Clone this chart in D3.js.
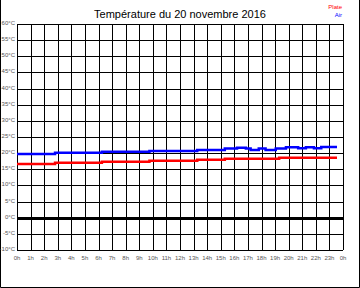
<!DOCTYPE html>
<html>
<head>
<meta charset="utf-8">
<script src="https://cdn.jsdelivr.net/npm/d3@7"></script>
<style>
  body { margin: 0; background: #fff; }
  svg { display: block; font-family: "Liberation Sans", Arial, sans-serif; }
  .tick-label { font-size: 6px; fill: #555; }
</style>
</head>
<body>
<svg width="360" height="288"></svg>
<script>
// hours where reading changes, and the value held from there (step chart)
var airHours  = [0, 2.8, 6.25, 9.75, 13.27, 15.3, 16.2, 16.85, 17.2, 17.8, 18.3, 19.05, 19.8, 20.7, 21.27, 21.86, 22.4, 23.56];
var airTemps  = [19.7, 20.1, 20.4, 20.7, 21.0, 21.4, 21.7, 21.4, 21.0, 21.4, 21.0, 21.4, 21.8, 21.5, 21.8, 21.5, 21.9, 21.9];
var plateHours = [0, 2.8, 6.25, 9.75, 13.27, 15.3, 19.3, 23.56];
var plateTemps = [16.6, 17.0, 17.3, 17.65, 17.96, 18.3, 18.6, 18.6];

var yTicks = d3.range(-10, 61, 5);
var xTicks = d3.range(0, 25);
var xTickLabels = xTicks.map(h => (h % 24) + 'h');

var title = 'Température du 20 novembre 2016';

var svg = d3.select('svg');
var W = +svg.attr('width'), H = +svg.attr('height');
var plot = { l: 17, r: 343, t: 24, b: 250 };

var x = d3.scaleLinear().domain([0, 24]).range([plot.l, plot.r]);
var y = d3.scaleLinear().domain([-10, 60]).range([plot.b, plot.t]);

// outer frame (left, right, bottom)
svg.append('path')
    .attr('d', `M0.5,0 V${H - 0.5} H${W - 0.5} V0`)
    .attr('fill', 'none').attr('stroke', '#000');

// grid
svg.append('g').selectAll('line').data(yTicks).enter().append('line')
    .attr('x1', plot.l).attr('x2', plot.r)
    .attr('y1', d => Math.round(y(d)) + 0.5).attr('y2', d => Math.round(y(d)) + 0.5)
    .attr('stroke', '#000').attr('stroke-width', 1);

svg.append('g').selectAll('line').data(xTicks).enter().append('line')
    .attr('x1', d => Math.round(x(d)) + 0.5).attr('x2', d => Math.round(x(d)) + 0.5)
    .attr('y1', plot.t).attr('y2', plot.b)
    .attr('stroke', '#000').attr('stroke-width', 1);

// zero line
svg.append('line')
    .attr('x1', plot.l).attr('x2', plot.r)
    .attr('y1', Math.round(y(0)) + 0.5).attr('y2', Math.round(y(0)) + 0.5)
    .attr('stroke', '#000').attr('stroke-width', 3);

// tick labels
svg.append('g').selectAll('text').data(yTicks).enter().append('text')
    .attr('class', 'tick-label')
    .attr('x', 15).attr('y', d => y(d) + 1)
    .attr('text-anchor', 'end')
    .text(d => d + '°C');

svg.append('g').selectAll('text').data(xTicks).enter().append('text')
    .attr('class', 'tick-label')
    .attr('x', d => x(d)).attr('y', 260)
    .attr('text-anchor', 'middle')
    .text((d, i) => xTickLabels[i]);

// series
var line = d3.line()
    .x(d => x(d[0]))
    .y(d => y(d[1]))
    .curve(d3.curveStepAfter);

svg.append('path').datum(d3.zip(plateHours, plateTemps))
    .attr('fill', 'none').attr('stroke', '#f00').attr('stroke-width', 2.5)
    .attr('d', line);

svg.append('path').datum(d3.zip(airHours, airTemps))
    .attr('fill', 'none').attr('stroke', '#00f').attr('stroke-width', 2.5)
    .attr('d', line);

// title + legend
svg.append('text')
    .attr('x', 180).attr('y', 18)
    .attr('text-anchor', 'middle')
    .style('font-size', '11px')
    .text(title);

svg.append('text').attr('x', 342).attr('y', 9)
    .attr('text-anchor', 'end').style('font-size', '6px').attr('fill', '#f00')
    .text('Plate');
svg.append('text').attr('x', 342).attr('y', 17)
    .attr('text-anchor', 'end').style('font-size', '6px').attr('fill', '#00f')
    .text('Air');
</script>
</body>
</html>
